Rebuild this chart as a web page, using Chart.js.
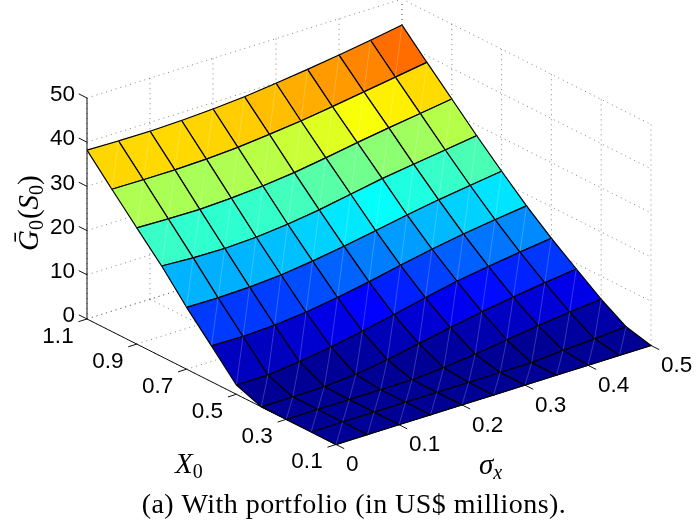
<!DOCTYPE html>
<html>
<head>
<meta charset="utf-8">
<title>With portfolio</title>
<script src="https://cdn.jsdelivr.net/npm/chart.js@4/dist/chart.umd.min.js"></script>
<style>
  html, body { margin: 0; padding: 0; background: #fff; }
  canvas { display: block; }
</style>
</head>
<body>
<canvas id="surfaceChart" width="696" height="532"></canvas>
<script>
// mesh values
const sigmaValues = [0, 0.05, 0.1, 0.15, 0.2, 0.25, 0.3, 0.35, 0.4, 0.45, 0.5];
const x0Values = [1.1, 1.0, 0.9, 0.8, 0.7, 0.6, 0.5, 0.4, 0.3, 0.2, 0.1];

const gAtX1_1 = [38.2, 38.05, 38.0, 38.2, 38.55, 39.1, 39.9, 40.8, 41.8, 42.9, 44.1];
const gAtX1_0 = [32.2, 32.1, 32.1, 32.3, 32.7, 33.4, 34.2, 35.2, 36.3, 37.4, 38.5];
const gAtX0_9 = [26.3, 26.1, 26.0, 26.3, 26.8, 27.6, 28.7, 29.9, 31.0, 32.0, 33.05];
const gAtX0_8 = [20.5, 20.1, 20.0, 20.3, 21.0, 22.0, 23.3, 24.6, 25.6, 26.6, 27.6];
const gAtX0_7 = [14.0, 13.9, 14.1, 14.6, 15.5, 16.6, 17.9, 19.2, 20.4, 21.4, 22.4];
const gAtX0_6 = [8.1, 8.0, 8.3, 9.0, 10.1, 11.4, 12.9, 14.3, 15.5, 16.5, 17.4];
const gAtX0_5 = [2.1, 2.1, 2.9, 4.0, 5.3, 6.8, 8.4, 9.9, 11.0, 12.0, 12.9];
const gAtX0_4 = [0, 0, 0.1, 0.6, 1.7, 3.1, 4.5, 5.8, 6.9, 7.9, 8.8];
const gAtX0_3 = [0, 0, 0, 0, 0, 0.5, 1.3, 2.3, 3.3, 4.1, 4.8];
const gAtX0_2 = [0, 0, 0, 0, 0, 0, 0, 0, 0.55, 0.9, 1.4];
const gAtX0_1 = [0, 0, 0, 0, 0, 0, 0, 0, 0, 0, 0];
const gRows = [gAtX1_1, gAtX1_0, gAtX0_9, gAtX0_8, gAtX0_7, gAtX0_6, gAtX0_5, gAtX0_4, gAtX0_3, gAtX0_2, gAtX0_1];

// axis ticks
const sigmaTicks = [0, 0.1, 0.2, 0.3, 0.4, 0.5];
const x0Ticks = [1.1, 0.9, 0.7, 0.5, 0.3, 0.1];
const gTicks = [0, 10, 20, 30, 40, 50];
const sigmaTickLabels = ['0', '0.1', '0.2', '0.3', '0.4', '0.5'];
const x0TickLabels = ['1.1', '0.9', '0.7', '0.5', '0.3', '0.1'];
const gTickLabels = ['0', '10', '20', '30', '40', '50'];

// fixed view: plain linear projection to the flat plane of the chart scales
function project(sigma, x0, g) {
  return {
    x: 87 + 630 * sigma + 249 * (1.1 - x0),
    y: 319 - 198 * sigma + 125.5 * (1.1 - x0) - 4.42 * g
  };
}

// jet colormap
function jet(t) {
  t = Math.min(1, Math.max(0, t));
  const r = Math.min(1, Math.max(0, Math.min(4 * t - 1.5, 4.5 - 4 * t)));
  const g = Math.min(1, Math.max(0, Math.min(4 * t - 0.5, 3.5 - 4 * t)));
  const b = Math.min(1, Math.max(0, Math.min(4 * t + 0.5, 2.5 - 4 * t)));
  return 'rgb(' + Math.round(r * 255) + ',' + Math.round(g * 255) + ',' + Math.round(b * 255) + ')';
}

const colorMin = -1;
const colorMax = 49;

function lineSet(points, color, width, dash) {
  return {
    type: 'scatter',
    showLine: true,
    data: points,
    borderColor: color,
    borderWidth: width,
    borderDash: dash || [],
    pointRadius: 0,
    tension: 0,
    fill: false,
    clip: false
  };
}

const datasets = [];

// surface cells, front cell first because Chart.js paints the first dataset last
for (let i = x0Values.length - 2; i >= 0; i--) {
  for (let j = 0; j < sigmaValues.length - 1; j++) {
    const a = project(sigmaValues[j], x0Values[i], gRows[i][j]);
    const b = project(sigmaValues[j + 1], x0Values[i], gRows[i][j + 1]);
    const c = project(sigmaValues[j + 1], x0Values[i + 1], gRows[i + 1][j + 1]);
    const d = project(sigmaValues[j], x0Values[i + 1], gRows[i + 1][j]);
    // thin light seam where the cell is split
    datasets.push(lineSet([d, b], 'rgba(255,255,255,0.3)', 0.7));
    const cell = lineSet([a, b, c, d, a], '#000', 1.2);
    cell.fill = 'shape';
    cell.backgroundColor = jet((gRows[i + 1][j] - colorMin) / (colorMax - colorMin));
    datasets.push(cell);
  }
}

// axes lines and ticks
const axisColor = '#111';
datasets.push(lineSet([project(0, 1.1, 0), project(0, 1.1, 50)], axisColor, 1));
datasets.push(lineSet([project(0, 1.1, 0), project(0, 0.1, 0)], axisColor, 1));
datasets.push(lineSet([project(0, 0.1, 0), project(0.5, 0.1, 0)], axisColor, 1));
gTicks.forEach(g => datasets.push(lineSet([project(0, 1.1, g), project(0, 1.133, g)], axisColor, 1)));
x0Ticks.forEach(x => datasets.push(lineSet([project(0, x, 0), project(-0.0135, x, 0)], axisColor, 1)));
sigmaTicks.forEach(s => datasets.push(lineSet([project(s, 0.1, 0), project(s, 0.067, 0)], axisColor, 1)));

// dotted grid on the back walls and the floor
const gridColor = '#666';
const gridDash = [1, 4];
gTicks.forEach(g => {
  datasets.push(lineSet([project(0, 1.1, g), project(0.5, 1.1, g)], gridColor, 0.8, gridDash));
  datasets.push(lineSet([project(0.5, 1.1, g), project(0.5, 0.1, g)], gridColor, 0.8, gridDash));
});
sigmaTicks.forEach(s => {
  datasets.push(lineSet([project(s, 1.1, 0), project(s, 1.1, 50)], gridColor, 0.8, gridDash));
  datasets.push(lineSet([project(s, 1.1, 0), project(s, 0.1, 0)], gridColor, 0.8, gridDash));
});
x0Ticks.forEach(x => {
  datasets.push(lineSet([project(0.5, x, 0), project(0.5, x, 50)], gridColor, 0.8, gridDash));
  datasets.push(lineSet([project(0, x, 0), project(0.5, x, 0)], gridColor, 0.8, gridDash));
});

// text runs with subscripts, left to right from the current origin
function drawRuns(ctx, runs, x, y) {
  runs.forEach(run => {
    ctx.font = run.font;
    ctx.fillText(run.text, x, y + (run.dy || 0));
    x += ctx.measureText(run.text).width + (run.gap || 0);
  });
}

const labelPlugin = {
  id: 'labelPlugin',
  afterDraw(chart) {
    const ctx = chart.ctx;
    const sx = chart.scales.x;
    const sy = chart.scales.y;
    const toPixel = p => ({ x: sx.getPixelForValue(p.x), y: sy.getPixelForValue(p.y) });
    ctx.save();
    ctx.fillStyle = '#000';
    ctx.textBaseline = 'middle';
    ctx.font = '22.5px "Liberation Sans"';

    ctx.textAlign = 'right';
    gTicks.forEach((g, k) => {
      const p = toPixel(project(0, 1.1, g));
      ctx.fillText(gTickLabels[k], p.x - 12, p.y - 3);
    });
    ctx.textAlign = 'center';
    x0Ticks.forEach((x, k) => {
      const p = toPixel(project(0, x, 0));
      ctx.fillText(x0TickLabels[k], p.x - 29, p.y + 17.5);
    });
    ctx.textAlign = 'left';
    sigmaTicks.forEach((s, k) => {
      const p = toPixel(project(s, 0.1, 0));
      ctx.fillText(sigmaTickLabels[k], p.x + 10, p.y + 20.5);
    });

    // axis titles
    const big = 'italic 29px "Liberation Serif"';
    const small = '20px "Liberation Serif"';
    ctx.textBaseline = 'alphabetic';
    drawRuns(ctx, [
      { text: 'X', font: big, gap: 0 },
      { text: '0', font: small, dy: 5 }
    ], 175, 473);
    drawRuns(ctx, [
      { text: 'σ', font: big },
      { text: 'x', font: 'italic 20px "Liberation Serif"', dy: 5 }
    ], 479, 474);

    ctx.save();
    ctx.translate(38, 251);
    ctx.rotate(-Math.PI / 2);
    drawRuns(ctx, [
      { text: 'Ḡ', font: big },
      { text: '0', font: small, dy: 5, gap: 1 },
      { text: '(', font: '29px "Liberation Serif"' },
      { text: 'S', font: big },
      { text: '0', font: small, dy: 5 },
      { text: ')', font: '29px "Liberation Serif"' }
    ], 0, 0);
    ctx.restore();

    // caption
    ctx.textAlign = 'center';
    ctx.font = '28px "Liberation Serif"';
    ctx.letterSpacing = '0.45px';
    ctx.fillText('(a) With portfolio (in US$ millions).', 354, 513);
    ctx.letterSpacing = '0px';
    ctx.restore();
  }
};

new Chart(document.getElementById('surfaceChart').getContext('2d'), {
  type: 'scatter',
  data: { datasets: datasets },
  plugins: [labelPlugin],
  options: {
    responsive: false,
    animation: false,
    devicePixelRatio: 1,
    layout: { padding: 0 },
    plugins: {
      legend: { display: false },
      tooltip: { enabled: false }
    },
    scales: {
      x: { type: 'linear', display: false, min: 0, max: 696 },
      y: { type: 'linear', display: false, min: 0, max: 532, reverse: true }
    }
  }
});
</script>
</body>
</html>
